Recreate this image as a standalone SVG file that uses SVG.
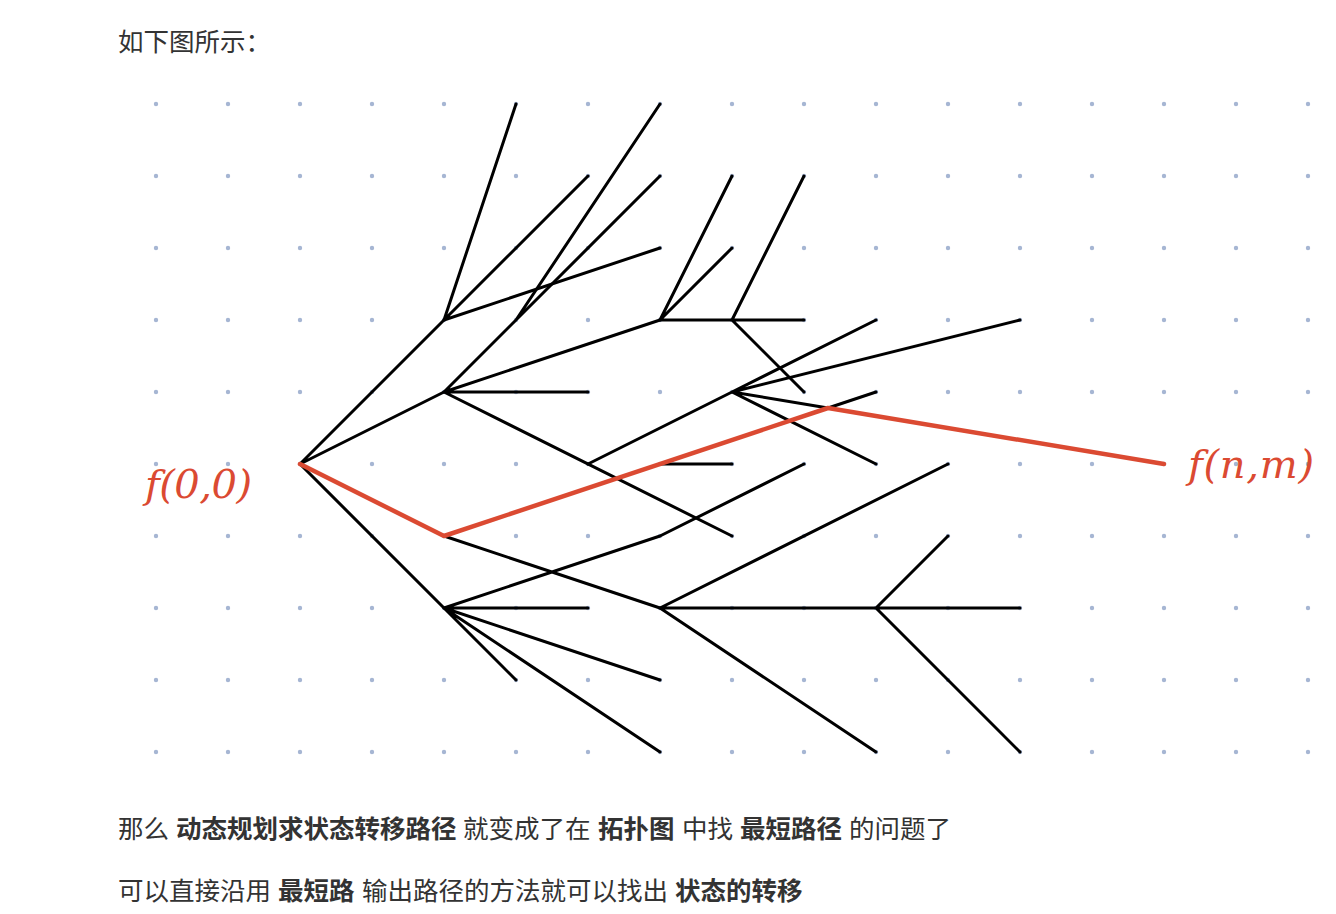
<svg xmlns="http://www.w3.org/2000/svg" width="1336" height="914" viewBox="0 0 1336 914">
<defs>
<style>
.txt{font-family:"Noto Sans CJK SC","Noto Sans",sans-serif;font-size:25.5px;fill:#333333}
.b{font-weight:bold}
.e{fill:none;stroke:#000;stroke-width:3;stroke-linecap:round;stroke-linejoin:round}
.red{fill:none;stroke:#db4a32;stroke-width:4.5;stroke-linecap:round;stroke-linejoin:round}
.lbl{font-family:"DejaVu Serif","Liberation Serif",serif;font-style:italic;font-size:40px;fill:#db4a32}
.dot{fill:none;stroke:#a6b6d3;stroke-width:4.4;stroke-linecap:round}
</style>
<path id="row" d="M156 0h0m72 0h0m72 0h0m72 0h0m72 0h0m72 0h0m72 0h0m72 0h0m72 0h0m72 0h0m72 0h0m72 0h0m72 0h0m72 0h0m72 0h0m72 0h0m72 0h0"/>
</defs>
<rect width="1336" height="914" fill="#fff"/>
<g id="grid" class="dot">
<use href="#row" y="104"/><use href="#row" y="176"/><use href="#row" y="248"/><use href="#row" y="320"/><use href="#row" y="392"/>
<use href="#row" y="464"/><use href="#row" y="536"/><use href="#row" y="608"/><use href="#row" y="680"/><use href="#row" y="752"/>
</g>
<text class="txt" x="118" y="51">如下图所示：</text>
<g id="connectors">
<path class="e" d="M300 464L444 320M300 464L444 392M300 464L444 608"/>
<path class="e" d="M444 320L516 104M444 320L588 176M444 320L660 248"/>
<path class="e" d="M444 392L516 320L660 104M444 392L660 176M444 392L588 392M444 392L660 320M444 392L732 536"/>
<path class="e" d="M660 320L732 176M660 320L732 248M660 320L804 320M732 320L804 176M732 320L804 392"/>
<path class="e" d="M732 392L876 320M732 392L1020 320M732 392L828 408L876 392M732 392L876 464M732 392L588 464M660 464L732 464"/>
<path class="e" d="M444 536L660 608M444 608L588 608M444 608L516 680M444 608L660 680M444 608L660 752M444 608L660 536L804 464"/>
<path class="e" d="M660 608L948 464M660 608L1020 608M660 608L876 752M876 608L948 536M876 608L1020 752"/>
<path class="red" d="M300 464L444 536L828 408L1164 464"/>
</g>
<g id="node-start"><text class="lbl" x="145" y="498" textLength="107" lengthAdjust="spacing">f(0,0)</text></g>
<g id="node-end"><text class="lbl" x="1188" y="478" textLength="126" lengthAdjust="spacing">f(n,m)</text></g>
<text class="txt" y="838"><tspan x="118">那么</tspan><tspan x="176" class="b">动态规划求状态转移路径</tspan><tspan x="463">就变成了在</tspan><tspan x="598" class="b">拓扑图</tspan><tspan x="682">中找</tspan><tspan x="740" class="b">最短路径</tspan><tspan x="849">的问题了</tspan></text>
<text class="txt" y="900"><tspan x="118">可以直接沿用</tspan><tspan x="278" class="b">最短路</tspan><tspan x="362">输出路径的方法就可以找出</tspan><tspan x="675" class="b">状态的转移</tspan></text>
</svg>
